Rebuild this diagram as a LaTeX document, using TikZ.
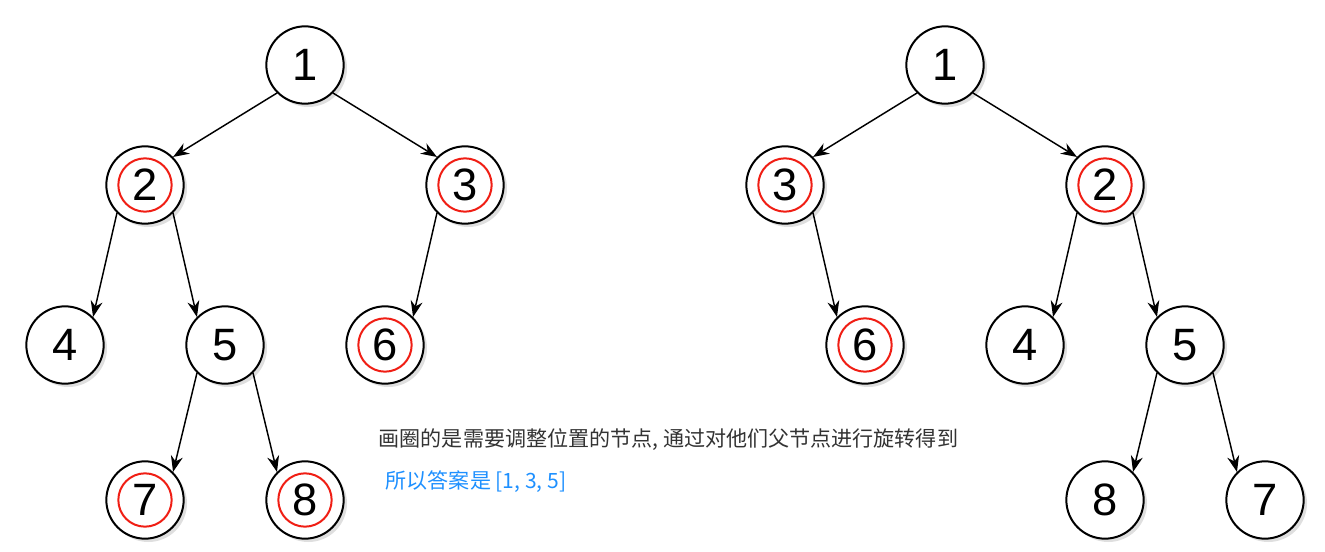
\documentclass[tikz,border=0pt]{standalone}
\usepackage{fontspec}
\setmainfont{Liberation Sans}
\newfontfamily\cjk{Noto Sans CJK SC}
\usetikzlibrary{arrows.meta,shadows}
\definecolor{ringred}{RGB}{240,30,20}
\definecolor{notegray}{RGB}{51,51,51}
\definecolor{answerblue}{RGB}{30,144,255}
\tikzset{
    >={Stealth[length=12pt,width=9pt]},
    every picture/.style={line width=1.1pt},
    treenode/.style={circle,draw,fill=white,line width=1.5pt,minimum size=58pt,inner sep=0pt,
        font=\fontsize{34}{40}\selectfont,
        drop shadow={shadow xshift=2.5pt,shadow yshift=-2.5pt,opacity=0.25}},
    marked/.style={path picture={\draw[ringred,line width=1.5pt] (path picture bounding box.center) circle (20pt);}},
    leftkid/.style={edge from parent path={(\tikzparentnode.south west) -- (\tikzchildnode.north east)}},
    rightkid/.style={edge from parent path={(\tikzparentnode.south east) -- (\tikzchildnode.north west)}},
    notetext/.style={anchor=west,inner sep=0pt,font=\cjk\fontsize{15.8}{18}\selectfont}
}

\begin{document}
\begin{tikzpicture}[
        every child node/.style={treenode},
        edge from parent/.style={draw,->,line width=1.1pt},
        level 1/.style={level distance=90pt,sibling distance=240pt},
        level 2/.style={level distance=120pt,sibling distance=120pt},
        level 3/.style={level distance=116.25pt,sibling distance=120pt}]
    \useasboundingbox (0pt,0pt) rectangle (993.75pt,-414pt);

    % Before rotation
    \node[treenode] (a1) at (228.75pt,-48.75pt) {1}
        child[leftkid] {
            node[marked] (a2) {2}
            child[leftkid] {node (a4) {4}}
            child[rightkid] {
                node (a5) {5}
                child[leftkid] {node[marked] (a7) {7}}
                child[rightkid] {node[marked] (a8) {8}}
            }
        }
        child[rightkid] {
            node[marked] (a3) {3}
            child[leftkid] {node[marked] (a6) {6}}
            child[missing]
        };

    % After rotation
    \node[treenode] (b1) at (708.75pt,-48.75pt) {1}
        child[leftkid] {
            node[marked] (b3) {3}
            child[missing]
            child[rightkid] {node[marked] (b6) {6}}
        }
        child[rightkid] {
            node[marked] (b2) {2}
            child[leftkid] {node (b4) {4}}
            child[rightkid] {
                node (b5) {5}
                child[leftkid] {node (b8) {8}}
                child[rightkid] {node (b7) {7}}
            }
        };

    \node[notetext,text=notegray] (note) at (283.5pt,-330pt) {画圈的是需要调整位置的节点, 通过对他们父节点进行旋转得到};
    \node[notetext,text=answerblue] (answer) at (288.75pt,-361.5pt) {所以答案是 [1, 3, 5]};
\end{tikzpicture}
\end{document}
